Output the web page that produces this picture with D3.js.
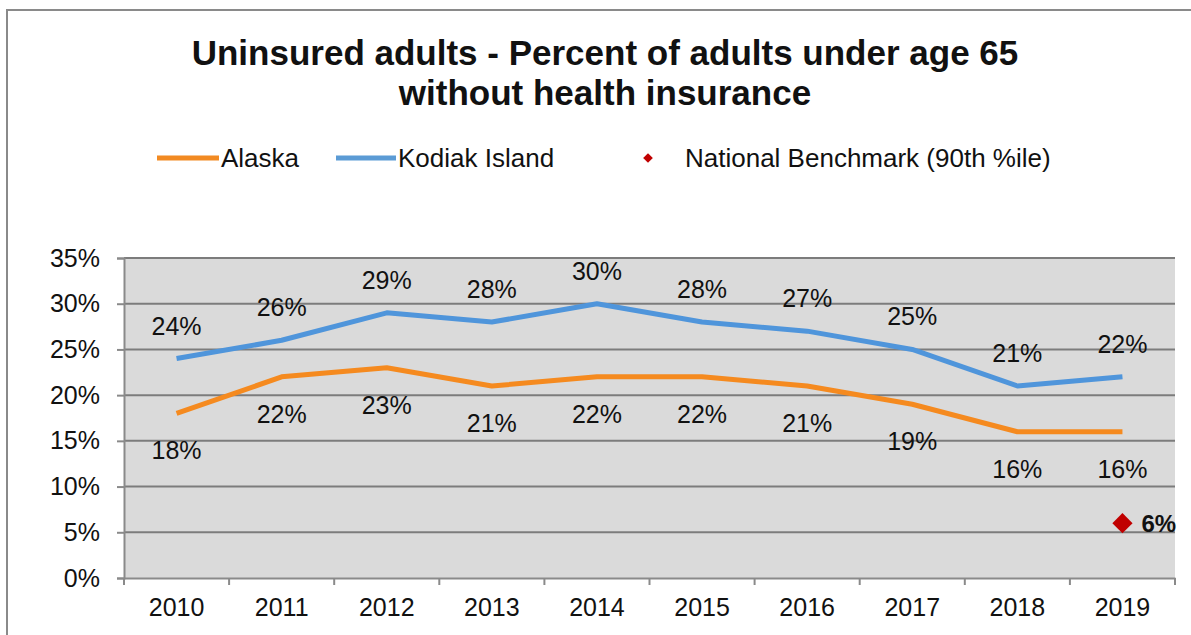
<!DOCTYPE html>
<html>
<head>
<meta charset="utf-8">
<script src="https://cdn.jsdelivr.net/npm/d3@7"></script>
<style>
  body { margin: 0; background: #fff; }
  svg text { font-family: "Liberation Sans", Arial, sans-serif; fill: #111; }
</style>
</head>
<body>
<svg id="vis" width="1191" height="635"></svg>
<script>
// data
const years = ["2010", "2011", "2012", "2013", "2014", "2015", "2016", "2017", "2018", "2019"];
const kodiak = [24, 26, 29, 28, 30, 28, 27, 25, 21, 22];
const alaska = [18, 22, 23, 21, 22, 22, 21, 19, 16, 16];
const benchmark = [{ year: "2019", value: 6 }];
const yTicks = [0, 5, 10, 15, 20, 25, 30, 35];

const svg = d3.select("svg#vis");

// plot area
const plotLeft = 124, plotRight = 1175, plotTop = 258, plotBottom = 578;

const x = d3.scaleBand().domain(years).range([plotLeft, plotRight]);
const y = d3.scaleLinear().domain([0, 35]).range([plotBottom, plotTop]);
const cx = d => x(d) + x.bandwidth() / 2;

// outer frame
svg.append("rect")
  .attr("x", 7).attr("y", 10)
  .attr("width", 1200).attr("height", 700)
  .attr("fill", "none")
  .attr("stroke", "#8a8a8a")
  .attr("stroke-width", 2);

// title
const title = svg.append("text")
  .attr("text-anchor", "middle")
  .style("font-size", "35px")
  .style("font-weight", "bold");
title.append("tspan").attr("x", 605).attr("y", 65).text("Uninsured adults - Percent of adults under age 65");
title.append("tspan").attr("x", 605).attr("y", 105).text("without health insurance");

// legend
const legend = svg.append("g").attr("id", "legend");
legend.append("line")
  .attr("x1", 157).attr("x2", 219).attr("y1", 158).attr("y2", 158)
  .attr("stroke", "#f28a22").attr("stroke-width", 5);
legend.append("text").attr("x", 221).attr("y", 167)
  .style("font-size", "26px").text("Alaska");
legend.append("line")
  .attr("x1", 336).attr("x2", 396).attr("y1", 158).attr("y2", 158)
  .attr("stroke", "#5b9bd5").attr("stroke-width", 5);
legend.append("text").attr("x", 398).attr("y", 167)
  .style("font-size", "26px").text("Kodiak Island");
legend.append("path")
  .attr("d", d3.symbol(d3.symbolDiamond2, 60)())
  .attr("transform", "translate(648,158)")
  .attr("fill", "#c00000");
legend.append("text").attr("x", 685).attr("y", 167)
  .style("font-size", "26px").text("National Benchmark (90th %ile)");

// plot background
svg.append("rect")
  .attr("x", plotLeft).attr("y", plotTop)
  .attr("width", plotRight - plotLeft).attr("height", plotBottom - plotTop)
  .attr("fill", "#dadada");

// gridlines
svg.append("g").selectAll("line")
  .data(yTicks.filter(d => d > 0))
  .join("line")
  .attr("x1", plotLeft).attr("x2", plotRight)
  .attr("y1", d => y(d)).attr("y2", d => y(d))
  .attr("stroke", "#7c7c7c").attr("stroke-width", 2);

// axes
const yAxis = svg.append("g")
  .attr("transform", `translate(${plotLeft},0)`)
  .call(d3.axisLeft(y).tickValues(yTicks).tickFormat(d => d + "%").tickSize(7).tickPadding(17));
const xAxis = svg.append("g")
  .attr("transform", `translate(0,${plotBottom})`)
  .call(d3.axisBottom(x).tickSize(0).tickPadding(20));

// x ticks sit between categories
xAxis.selectAll("line.between")
  .data(years.concat(["end"]))
  .join("line")
  .attr("class", "between")
  .attr("x1", (d, i) => plotLeft + i * x.bandwidth())
  .attr("x2", (d, i) => plotLeft + i * x.bandwidth())
  .attr("y1", 0).attr("y2", 7);

[yAxis, xAxis].forEach(a => {
  a.selectAll("path.domain").attr("stroke", "#8a8a8a").attr("stroke-width", 2);
  a.selectAll("line").attr("stroke", "#8a8a8a").attr("stroke-width", 2);
  a.selectAll("text")
    .style("font-size", "25px")
    .style("font-family", "'Liberation Sans', Arial, sans-serif")
    .attr("fill", "#111");
});

// lines
const line = d3.line()
  .x((d, i) => cx(years[i]))
  .y(d => y(d));

svg.append("path")
  .datum(alaska)
  .attr("d", line)
  .attr("fill", "none")
  .attr("stroke", "#f58a1f")
  .attr("stroke-width", 5)
  .attr("stroke-linejoin", "round");

svg.append("path")
  .datum(kodiak)
  .attr("d", line)
  .attr("fill", "none")
  .attr("stroke", "#4f95db")
  .attr("stroke-width", 5)
  .attr("stroke-linejoin", "round");

// data labels
svg.append("g").selectAll("text")
  .data(kodiak)
  .join("text")
  .attr("x", (d, i) => cx(years[i]))
  .attr("y", d => y(d) - 24)
  .attr("text-anchor", "middle")
  .style("font-size", "25px")
  .text(d => d + "%");

svg.append("g").selectAll("text")
  .data(alaska)
  .join("text")
  .attr("x", (d, i) => cx(years[i]))
  .attr("y", d => y(d) + 46)
  .attr("text-anchor", "middle")
  .style("font-size", "25px")
  .text(d => d + "%");

// benchmark
const bm = svg.append("g");
bm.selectAll("path")
  .data(benchmark)
  .join("path")
  .attr("d", d3.symbol(d3.symbolDiamond2, 260)())
  .attr("transform", d => `translate(${cx(d.year)},${y(d.value)})`)
  .attr("fill", "#c00000");
bm.selectAll("text")
  .data(benchmark)
  .join("text")
  .attr("x", d => cx(d.year) + 19)
  .attr("y", d => y(d.value) + 9)
  .style("font-size", "24px")
  .style("font-weight", "bold")
  .text(d => d.value + "%");
</script>
</body>
</html>
